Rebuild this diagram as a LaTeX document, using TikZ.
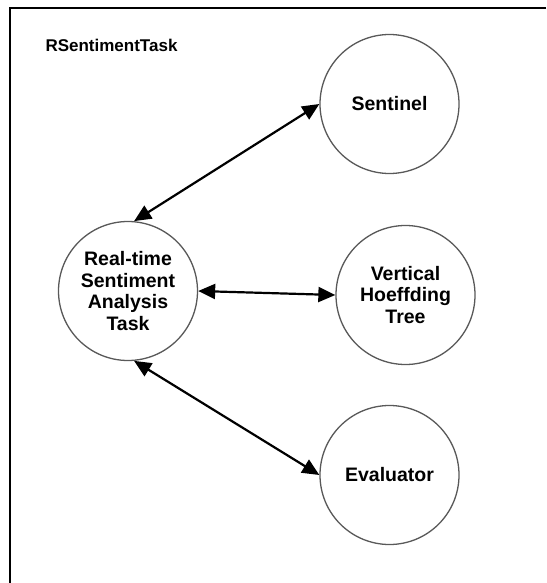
\documentclass[tikz,border=0pt]{standalone}
\usepackage{fontspec}
\setmainfont{Liberation Sans}
\usetikzlibrary{arrows.meta}
\tikzset{
  task/.style={circle,draw=black!65,line width=1.3pt,fill=white,minimum size=139pt,inner sep=0pt,
    align=center,font=\fontsize{19.5}{21.7}\selectfont\bfseries},
  link/.style={{Triangle[length=17pt,width=15pt]}-{Triangle[length=17pt,width=15pt]},line width=2.2pt},
  frame/.style={line width=2.2pt},
  title/.style={anchor=base west,font=\fontsize{17}{20}\selectfont\bfseries}
}
\begin{document}
\begin{tikzpicture}[x=1pt,y=-1pt]
\useasboundingbox (0,0) rectangle (546,583);
\draw[frame] (546,8) -- (10,8) -- (10,583);
\node[title] (name) at (42,52) {RSentimentTask};
\node[task] (rt) at (128,291) {Real-time\\Sentiment\\Analysis\\Task};
\node[task] (sent) at (389.5,104) {Sentinel};
\node[task] (vht) at (405.5,295) {Vertical\\Hoeffding\\Tree};
\node[task] (eval) at (389.5,475) {Evaluator};
% bidirectional links
\draw[link] (rt.85) -- (sent.west);
\draw[link] (rt.east) -- (vht.west);
\draw[link] (rt.-85) -- (eval.west);
\end{tikzpicture}
\end{document}
